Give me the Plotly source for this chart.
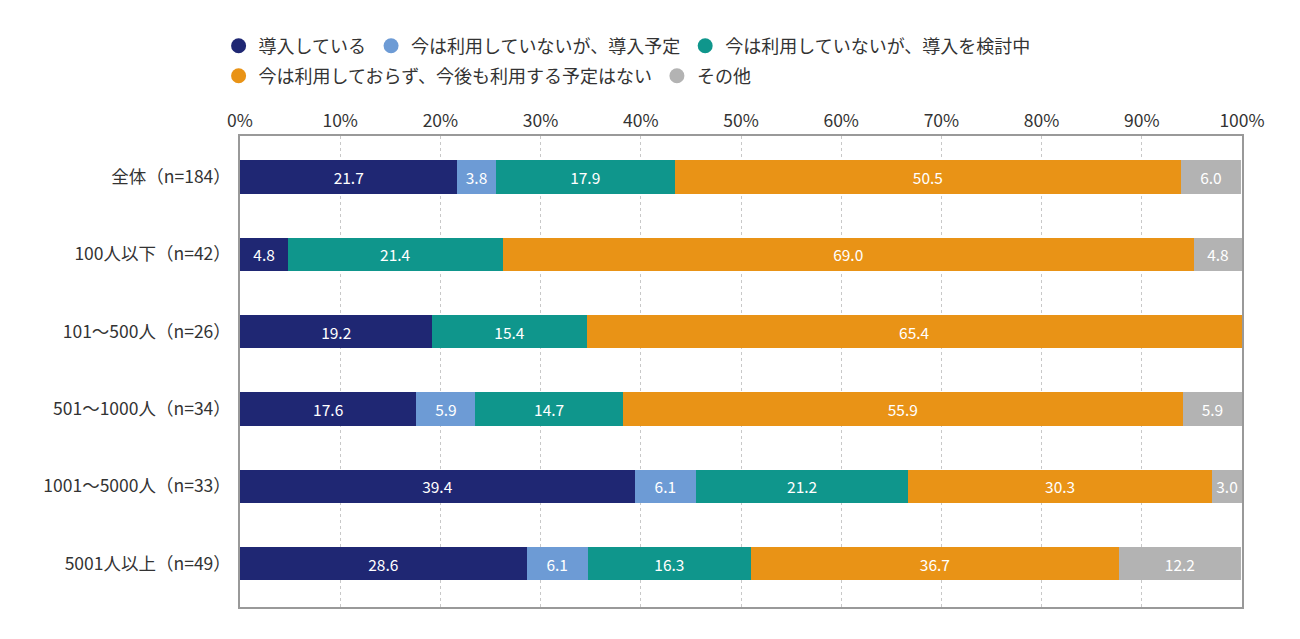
import plotly.graph_objects as go

# 回答区分（凡例）と色
series_names = [
    "導入している",
    "今は利用していないが、導入予定",
    "今は利用していないが、導入を検討中",
    "今は利用しておらず、今後も利用する予定はない",
    "その他",
]
series_colors = ["#1f2773", "#6d9bd5", "#0f968c", "#e99316", "#b3b3b3"]

categories = [
    "全体（n=184）",
    "100人以下（n=42）",
    "101〜500人（n=26）",
    "501〜1000人（n=34）",
    "1001〜5000人（n=33）",
    "5001人以上（n=49）",
]

# 値（%）、該当なしは None
introduced = [21.7, 4.8, 19.2, 17.6, 39.4, 28.6]
planned = [3.8, None, None, 5.9, 6.1, 6.1]
considering = [17.9, 21.4, 15.4, 14.7, 21.2, 16.3]
no_plan = [50.5, 69.0, 65.4, 55.9, 30.3, 36.7]
other = [6.0, 4.8, None, 5.9, 3.0, 12.2]

all_values = [introduced, planned, considering, no_plan, other]

FONT = "Noto Sans CJK JP"

fig = go.Figure()

for i, (name, color, vals) in enumerate(zip(series_names, series_colors, all_values)):
    fig.add_trace(go.Bar(
        y=categories, x=vals, orientation="h", name=name,
        marker=dict(color=color, line=dict(width=0)),
        text=[f"{v:.1f}" if v is not None else "" for v in vals],
        textposition="inside", insidetextanchor="middle",
        textfont=dict(color="white", size=15.5, family=FONT),
        showlegend=False, hoverinfo="x+name", width=0.43,
    ))
    # 凡例用の丸マーカー（前3つは1行目、後2つは2行目）
    fig.add_trace(go.Scatter(
        x=[None], y=[None], mode="markers", name=name,
        marker=dict(color=color, size=15, symbol="circle"),
        legend="legend" if i < 3 else "legend2",
    ))

legend_style = dict(
    orientation="h", xref="container", yref="container",
    xanchor="left", yanchor="middle", traceorder="normal",
    font=dict(size=18, color="#333", family=FONT),
    itemwidth=30, bgcolor="rgba(0,0,0,0)",
)

# ページ余白 8px 分を差し引いた位置
fig.update_layout(
    width=1300, height=639,
    barmode="stack",
    plot_bgcolor="white", paper_bgcolor="white",
    margin=dict(l=232, r=66, t=128, b=40),
    font=dict(family=FONT, color="#333"),
    legend=dict(x=0.162, y=1 - 38 / 639, **legend_style),
    legend2=dict(x=0.162, y=1 - 68 / 639, **legend_style),
    xaxis=dict(
        range=[0, 100], dtick=10, ticksuffix="%", side="top",
        showgrid=True, gridcolor="#c8c8c8", griddash="dot", gridwidth=1,
        showline=True, linecolor="#999", linewidth=1.5, mirror=True,
        tickfont=dict(size=17.5, color="#333"), ticks="", zeroline=False,
    ),
    yaxis=dict(
        range=[5.56, -0.53], showline=True, linecolor="#999", linewidth=1.5,
        mirror=True, tickfont=dict(size=17.5, color="#333"), ticks="",
        ticksuffix=" ",
    ),
)

fig.write_html("out.html")
